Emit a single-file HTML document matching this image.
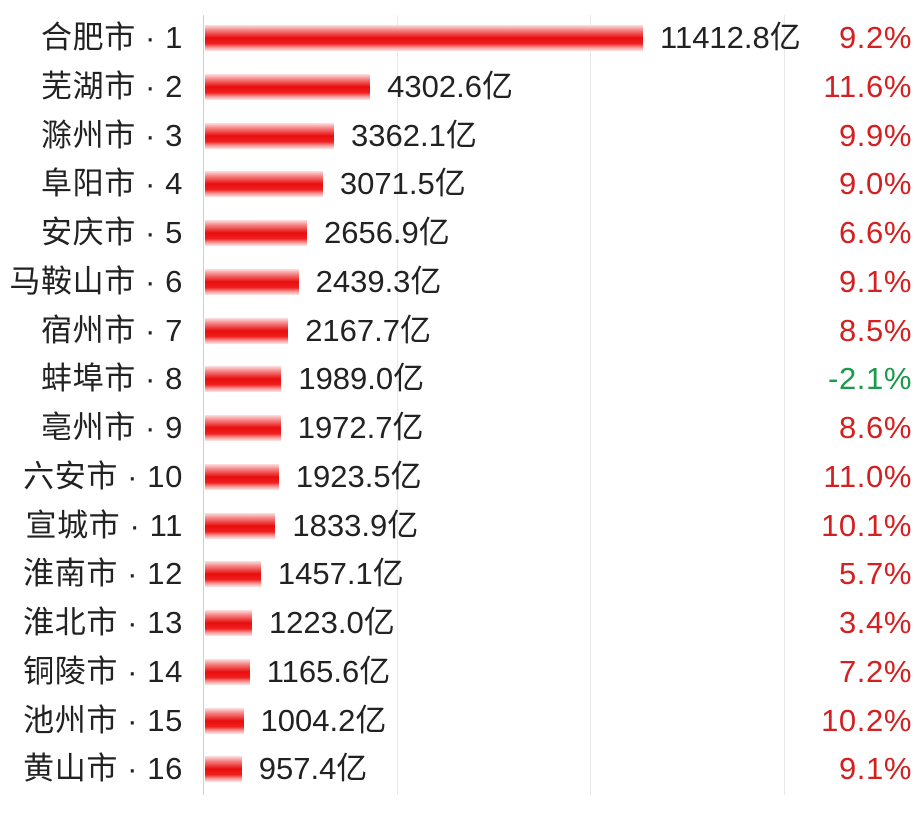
<!DOCTYPE html>
<html><head><meta charset="utf-8"><style>
body{margin:0;width:918px;height:814px;background:#fff;position:relative;overflow:hidden;font-family:"Liberation Sans","Noto Sans CJK SC",sans-serif;}
.l{position:absolute;right:735px;font-size:31px;letter-spacing:0.6px;color:#222;white-space:nowrap;line-height:32px}
.b{position:absolute;left:205px;height:26px;background:linear-gradient(to bottom,#fde3e3 0%,#f57b7b 22%,#e80d0d 50%,#ee2020 72%,#f7a0a0 88%,#fde3e3 100%)}
.v{position:absolute;font-size:31px;color:#222;white-space:nowrap;line-height:32px}
.p{position:absolute;right:6px;font-size:31px;letter-spacing:0.6px;color:#d42020;line-height:32px}
.g{position:absolute;top:15px;height:780px;width:1px;background:#e8e8e8}
</style></head><body>
<div class="g" style="left:203px;background:#cfcfcf"></div>
<div class="g" style="left:397px"></div>
<div class="g" style="left:590px"></div>
<div class="g" style="left:784px"></div>
<div id="c"></div>
<script>
var d=[["合肥市 · 1",11412.8,"9.2%"],["芜湖市 · 2",4302.6,"11.6%"],["滁州市 · 3",3362.1,"9.9%"],["阜阳市 · 4",3071.5,"9.0%"],["安庆市 · 5",2656.9,"6.6%"],["马鞍山市 · 6",2439.3,"9.1%"],["宿州市 · 7",2167.7,"8.5%"],["蚌埠市 · 8",1989.0,"-2.1%"],["亳州市 · 9",1972.7,"8.6%"],["六安市 · 10",1923.5,"11.0%"],["宣城市 · 11",1833.9,"10.1%"],["淮南市 · 12",1457.1,"5.7%"],["淮北市 · 13",1223.0,"3.4%"],["铜陵市 · 14",1165.6,"7.2%"],["池州市 · 15",1004.2,"10.2%"],["黄山市 · 16",957.4,"9.1%"]];
var h="";
d.forEach(function(r,i){var y=38+i*48.75;var w=r[1]*0.03838;
h+='<div class="l" style="top:'+(y-16)+'px">'+r[0]+'</div>';
h+='<div class="b" style="top:'+(y-13)+'px;width:'+w+'px"></div>';
h+='<div class="v" style="top:'+(y-16)+'px;left:'+(205+w+17)+'px">'+r[1].toFixed(1)+'亿</div>';
h+='<div class="p" style="top:'+(y-16)+'px;'+(r[2][0]=="-"?"color:#1a9a4a":"")+'">'+r[2]+'</div>';});
document.getElementById("c").innerHTML=h;
</script>
</body></html>
